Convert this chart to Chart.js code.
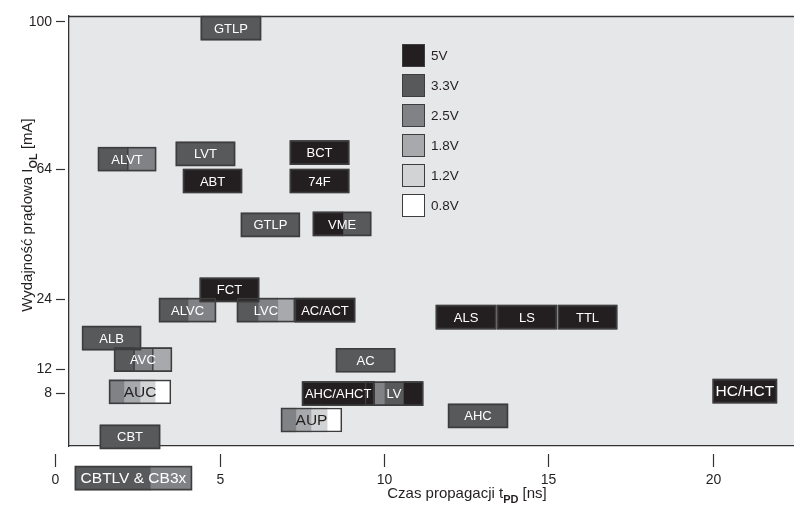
<!DOCTYPE html>
<html lang="pl">
<head>
<meta charset="UTF-8">
<title>Wydajność prądowa a czas propagacji</title>
<script src="https://cdn.jsdelivr.net/npm/chart.js"></script>
<style>
  html, body { margin: 0; padding: 0; background: #fff; }
  #wrap { width: 794px; height: 506px; position: relative; }
</style>
</head>
<body>
<div id="wrap"><canvas id="chart"></canvas></div>
<script>
// rodziny układów: nazwa, I_OL [mA], granice segmentów t_PD [ns], napięcie zasilania segmentu
const families = ['GTLP', 'ALVT', 'LVT', 'ABT', 'BCT', '74F', 'GTLP', 'VME', 'FCT',
  'ALVC', 'LVC', 'AC/ACT', 'ALS', 'LS', 'TTL', 'ALB', 'AVC', 'AC', 'AUC', 'HC/HCT',
  'AHC/AHCT', 'LV', 'AUP', 'AHC', 'CBT', 'CBTLV & CB3x'];
const currents = [98.5, 66.4, 67.7, 60.3, 68.0, 60.3, 46.8, 47.1, 26.8,
  22.1, 22.1, 22.1, 20.9, 20.9, 20.9, 17.3, 13.6, 13.5, 8.2, 8.3,
  7.9, 7.9, 3.5, 4.2, 0.7, -6.2];
const edges = [
  [4.43, 6.26], [1.30, 2.21, 3.07], [3.67, 5.47], [3.89, 5.68], [7.14, 8.94],
  [7.14, 8.94], [5.65, 7.44], [7.84, 8.75, 9.61], [4.40, 6.20],
  [3.16, 4.04, 4.89], [5.53, 6.17, 6.77, 7.29], [7.29, 9.12],
  [11.58, 13.41], [13.44, 15.25], [15.29, 17.09], [0.82, 2.61],
  [1.79, 2.40, 2.97, 3.55], [8.54, 10.34], [1.64, 2.09, 2.58, 3.04, 3.52],
  [20.0, 21.95], [7.51, 9.70], [9.42, 9.70, 10.03, 10.61, 11.19],
  [6.87, 7.32, 7.78, 8.27, 8.72], [11.95, 13.77], [1.36, 3.19], [0.60, 2.89, 4.16]
];
const voltages = [
  ['3.3V'], ['3.3V', '2.5V'], ['3.3V'], ['5V'], ['5V'], ['5V'], ['3.3V'], ['5V', '3.3V'], ['5V'],
  ['3.3V', '2.5V'], ['3.3V', '2.5V', '1.8V'], ['5V'], ['5V'], ['5V'], ['5V'], ['3.3V'],
  ['3.3V', '2.5V', '1.8V'], ['3.3V'], ['2.5V', '1.8V', '1.2V', '0.8V'], ['5V'],
  ['5V'], ['5V', '2.5V', '3.3V', '5V'], ['2.5V', '1.8V', '1.2V', '0.8V'], ['3.3V'], ['3.3V'],
  ['3.3V', '2.5V']
];
const supplyLabels = ['5V', '3.3V', '2.5V', '1.8V', '1.2V', '0.8V'];
const yTicks = [8, 12, 24, 64, 100];
const xTicks = [0, 5, 10, 15, 20];

// wygląd
const supplyColors = ['#231f20', '#58595b', '#808285', '#a7a9ac', '#d1d3d4', '#ffffff'];
const yStops = [0, 24, 94, 224, 371];      // nieliniowy rozstaw osi Y
const divided = ['ALVT', 'AVC'];
const bigLabels = ['AUC', 'AUP', 'HC/HCT', 'CBTLV & CB3x'];
const darkLabels = ['AUC', 'AUP'];
const FONT = '"Liberation Sans", Arial, Helvetica, sans-serif';
const INK = '#231f20';

function warp(v) {
  if (v <= yTicks[0]) return yStops[0] + (v - yTicks[0]) * 6;
  for (let i = 0; i < yTicks.length - 1; i++) {
    if (v <= yTicks[i + 1]) {
      const t = (v - yTicks[i]) / (yTicks[i + 1] - yTicks[i]);
      return yStops[i] + t * (yStops[i + 1] - yStops[i]);
    }
  }
  const n = yTicks.length - 1;
  return yStops[n] + (v - yTicks[n]) * 4;
}

const common = {
  type: 'bar', stack: 'boxes', barThickness: 24, borderSkipped: false,
  clip: false, order: 1
};

const datasets = supplyLabels.map((lab, k) => Object.assign({}, common, {
  label: lab,
  backgroundColor: supplyColors[k],
  borderColor: '#3d3d3d',
  borderWidth: c => (c.raw && divided.includes(c.raw.box)) ? 1 : 0,
  data: []
}));

families.forEach((name, i) => {
  voltages[i].forEach((v, j) => {
    datasets[supplyLabels.indexOf(v)].data.push({
      x: [edges[i][j], edges[i][j + 1]], y: warp(currents[i]), box: name
    });
  });
});

datasets.push(Object.assign({}, common, {
  label: 'outline',
  order: 0,
  backgroundColor: 'rgba(0,0,0,0)',
  borderColor: '#3d3d3d',
  borderWidth: 1,
  data: families.map((name, i) => ({
    x: [edges[i][0], edges[i][edges[i].length - 1]], y: warp(currents[i]), name: name
  }))
}));

const plotBg = {
  id: 'plotBg',
  beforeDraw(chart) {
    const { ctx, chartArea: a } = chart;
    ctx.save();
    ctx.fillStyle = '#e6e7e8';
    ctx.fillRect(a.left, a.top, a.right - a.left, a.bottom - a.top);
    ctx.strokeStyle = '#333';
    ctx.lineWidth = 1.3;
    ctx.beginPath();
    ctx.moveTo(a.left, a.top + 0.5);
    ctx.lineTo(a.right, a.top + 0.5);
    ctx.stroke();
    ctx.restore();
  }
};

const boxLabels = {
  id: 'boxLabels',
  afterDatasetsDraw(chart) {
    const ctx = chart.ctx;
    const meta = chart.getDatasetMeta(datasets.length - 1);
    ctx.save();
    ctx.textAlign = 'center';
    ctx.textBaseline = 'middle';
    meta.data.forEach((el, i) => {
      const name = families[i];
      const big = bigLabels.includes(name);
      ctx.font = (big ? '15.5px ' : '13px ') + FONT;
      ctx.fillStyle = darkLabels.includes(name) ? INK : '#ffffff';
      ctx.fillText(name, (el.x + el.base) / 2, el.y + 1);
    });
    ctx.restore();
  }
};

const voltLegend = {
  id: 'voltLegend',
  afterDraw(chart) {
    const { ctx, chartArea: a } = chart;
    const x0 = a.left + 333, y0 = a.top + 28;
    ctx.save();
    ctx.font = '13.5px ' + FONT;
    ctx.textBaseline = 'middle';
    supplyLabels.forEach((lab, k) => {
      const y = y0 + k * 30;
      ctx.fillStyle = supplyColors[k];
      ctx.fillRect(x0, y, 23, 23);
      ctx.strokeStyle = '#3d3d3d';
      ctx.lineWidth = 1;
      ctx.strokeRect(x0 + 0.5, y + 0.5, 22, 22);
      ctx.fillStyle = INK;
      ctx.fillText(lab, x0 + 29, y + 12);
    });
    ctx.restore();
  }
};

function richText(ctx, parts, x, y) {
  let w = 0;
  parts.forEach(p => { ctx.font = p.font; w += ctx.measureText(p.t).width; });
  let cx = x - w / 2;
  parts.forEach(p => {
    ctx.font = p.font;
    ctx.fillText(p.t, cx, y + (p.dy || 0));
    cx += ctx.measureText(p.t).width;
  });
}

const axisDecor = {
  id: 'axisDecor',
  afterDraw(chart) {
    const { ctx, chartArea: a } = chart;
    const xs = chart.scales.x;
    ctx.save();
    ctx.fillStyle = INK;
    ctx.strokeStyle = '#333';
    ctx.lineWidth = 1.2;
    ctx.textAlign = 'center';
    ctx.textBaseline = 'middle';
    ctx.font = '14px ' + FONT;
    xTicks.forEach(v => {
      const px = Math.round(xs.getPixelForValue(v)) + 0.5;
      ctx.beginPath();
      ctx.moveTo(px, a.bottom + 8);
      ctx.lineTo(px, a.bottom + 21);
      ctx.stroke();
      ctx.fillText(String(v), px, a.bottom + 34);
    });
    ctx.textAlign = 'left';
    ctx.textBaseline = 'alphabetic';
    const reg = '15px ' + FONT, sub = 'bold 11px ' + FONT;
    richText(ctx, [
      { t: 'Czas propagacji t', font: reg },
      { t: 'PD', font: sub, dy: 5 },
      { t: ' [ns]', font: reg }
    ], 467, 498);
    ctx.translate(32, 215);
    ctx.rotate(-Math.PI / 2);
    richText(ctx, [
      { t: 'Wydajność prądowa I', font: reg },
      { t: 'OL', font: sub, dy: 5 },
      { t: ' [mA]', font: reg }
    ], 0, 0);
    ctx.restore();
  }
};

new Chart(document.getElementById('chart'), {
  type: 'bar',
  data: { datasets: datasets },
  options: {
    indexAxis: 'y',
    responsive: true,
    maintainAspectRatio: false,
    animation: false,
    layout: { padding: { top: 16, right: 0, left: 0, bottom: 0 } },
    plugins: { legend: { display: false }, tooltip: { enabled: false } },
    scales: {
      x: {
        type: 'linear', min: 0.42, max: 22.47, stacked: false,
        grid: { display: false },
        ticks: { display: false },
        border: { color: '#333', width: 1.3 },
        afterFit(s) { s.height = 60; }
      },
      y: {
        type: 'linear', min: -53, max: 377, offset: false,
        grid: {
          offset: false, drawOnChartArea: false, tickLength: 13, tickBorderDash: [9, 20],
          tickColor: '#333', tickWidth: 1.2, color: '#333'
        },
        border: { color: '#333', width: 1.3 },
        afterBuildTicks(s) { s.ticks = yTicks.map(v => ({ value: warp(v) })); },
        ticks: {
          autoSkip: false, padding: 4, color: INK,
          font: { family: FONT, size: 14 },
          callback: (val, i) => yTicks[i]
        },
        afterFit(s) { s.width = 69; }
      }
    }
  },
  plugins: [plotBg, boxLabels, voltLegend, axisDecor]
});
</script>
</body>
</html>
